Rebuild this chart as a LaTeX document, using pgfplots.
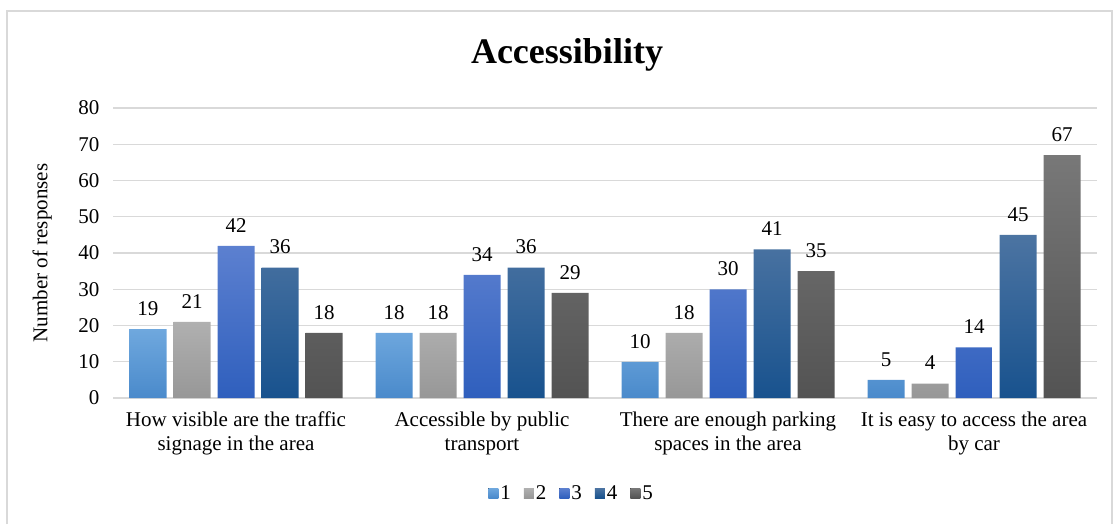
\documentclass[border=0pt]{standalone}
\usepackage{pgfplots}
\pgfplotsset{compat=1.18}
\usepackage{fontspec}
\setmainfont{Liberation Serif}

\definecolor{gridgray}{HTML}{D9D9D9}
\definecolor{aT}{HTML}{6FA8DE}\definecolor{aB}{HTML}{4A8ACB}
\definecolor{bT}{HTML}{B0B0B0}\definecolor{bB}{HTML}{979797}
\definecolor{cT}{HTML}{5C80D0}\definecolor{cB}{HTML}{2F5FBD}
\definecolor{dT}{HTML}{4C74A2}\definecolor{dB}{HTML}{18528E}
\definecolor{eT}{HTML}{787878}\definecolor{eB}{HTML}{535353}

\begin{document}
\begin{tikzpicture}[x=1pt,y=1pt]
\useasboundingbox (0,0) rectangle (1113,-525);
\draw[gridgray, line width=1.2pt] (7,-524) -- (7,-11) -- (1112,-11) -- (1112,-524);
\node[font=\fontsize{36}{40}\selectfont\bfseries] at (567,-55) {Accessibility};

\begin{axis}[
	at={(113pt,-398pt)}, anchor=south west,
	scale only axis,
	width=984pt, height=290pt,
	font=\fontsize{21}{24}\selectfont,
	/pgf/number format/assume math mode=true,
	ybar=7pt, bar width=37pt,
	xmin=-0.5, xmax=3.5,
	ymin=0, ymax=80,
	ytick={0,10,...,80},
	xtick=data,
	xticklabels={How visible are the traffic\\signage in the area,
		Accessible by  public\\transport,
		There are enough parking\\spaces in the area,
		It is easy to access the area\\by car},
	xticklabel style={align=center, yshift=-6pt},
	yticklabel style={xshift=-10pt},
	axis line style={draw=none},
	tick style={draw=none},
	ymajorgrids=true,
	grid style={gridgray, line width=1.2pt},
	ylabel={Number of responses},
	ylabel style={at={(axis description cs:-0.072,0.5)}, anchor=center},
	nodes near coords,
	every node near coord/.append style={yshift=10pt, font=\fontsize{21}{24}\selectfont},
	legend columns=5,
	legend style={at={(0.466,-0.328)}, anchor=center, draw=none, fill=none,
		/tikz/every even column/.append style={column sep=11pt}},
	legend image code/.code={\fill[#1] (0pt,-5pt) rectangle (10pt,5pt);},
]
\addplot[draw=none, top color=aT, bottom color=aB] coordinates {(0,19)(1,18)(2,10)(3,5)};
\addplot[draw=none, top color=bT, bottom color=bB] coordinates {(0,21)(1,18)(2,18)(3,4)};
\addplot[draw=none, top color=cT, bottom color=cB] coordinates {(0,42)(1,34)(2,30)(3,14)};
\addplot[draw=none, top color=dT, bottom color=dB] coordinates {(0,36)(1,36)(2,41)(3,45)};
\addplot[draw=none, top color=eT, bottom color=eB] coordinates {(0,18)(1,29)(2,35)(3,67)};
\legend{1,2,3,4,5}
\end{axis}
\end{tikzpicture}
\end{document}
